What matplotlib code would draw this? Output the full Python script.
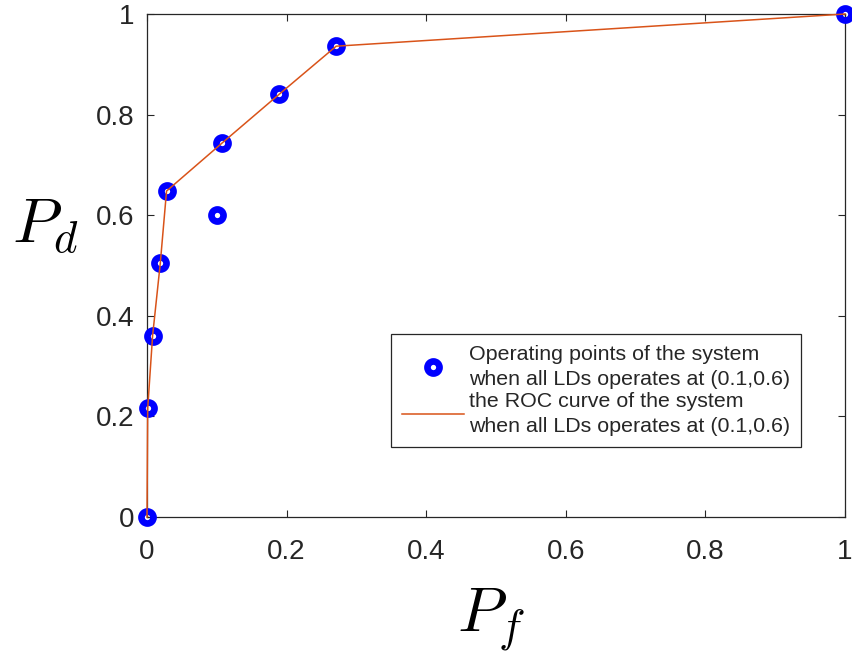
import numpy as np
import matplotlib
matplotlib.use("Agg")
import matplotlib.pyplot as plt
from matplotlib.ticker import FuncFormatter

# operating points of the fused system (false alarm, detection)
pf_ops = [0.0, 0.001, 0.008, 0.019, 0.028, 0.1, 0.108, 0.189, 0.271, 1.0]
pd_ops = [0.0, 0.216, 0.36, 0.504, 0.648, 0.6, 0.744, 0.84, 0.936, 1.0]

# ROC curve through the upper operating points
pf_roc = [0.0, 0.001, 0.008, 0.019, 0.028, 0.108, 0.189, 0.271, 1.0]
pd_roc = [0.0, 0.216, 0.36, 0.504, 0.648, 0.744, 0.84, 0.936, 1.0]

ticks = [0, 0.2, 0.4, 0.6, 0.8, 1]
label_ops = "Operating points of the system\nwhen all LDs operates at (0.1,0.6)"
label_roc = "the ROC curve of the system\nwhen all LDs operates at (0.1,0.6)"

plt.rcParams['font.family'] = ['Liberation Sans', 'DejaVu Sans']
plt.rcParams['mathtext.fontset'] = 'cm'
axcol = '#262626'

W, H = 853, 654
fig = plt.figure(figsize=(W / 100, H / 100), dpi=100)
ax = fig.add_axes([147 / W, 1 - 517 / H, 698 / W, 503 / H])

ax.plot(pf_ops, pd_ops, 'o', color='blue', markerfacecolor='none',
        markersize=8.7, markeredgewidth=4.8, label=label_ops, zorder=3,
        clip_on=False)
ax.plot(pf_roc, pd_roc, '-', color='#D95319', linewidth=1.1, label=label_roc,
        zorder=4, clip_on=False)

ax.set_xlim(0, 1)
ax.set_ylim(0, 1)
ax.set_xticks(ticks)
ax.set_yticks(ticks)
fmt = FuncFormatter(lambda v, p: ('%g' % v))
ax.xaxis.set_major_formatter(fmt)
ax.yaxis.set_major_formatter(fmt)
ax.tick_params(direction='in', length=5, width=0.8, colors=axcol, labelsize=20,
               top=True, right=True)
ax.tick_params(axis='x', pad=16)
ax.tick_params(axis='y', pad=9)
for s in ax.spines.values():
    s.set_color(axcol)
    s.set_linewidth(0.9)

fig.text(12 / W, 1 - 243 / H, r'$P_d$', fontsize=46, ha='left', va='baseline')
fig.text(457 / W, 1 - 632 / H, r'$P_f$', fontsize=46, ha='left', va='baseline')

leg = ax.legend(loc='upper left', bbox_to_anchor=(391 / W, 1 - 334 / H),
                bbox_transform=fig.transFigure, borderaxespad=0, fontsize=15.4,
                fancybox=False, framealpha=1, edgecolor=axcol, borderpad=0.5,
                handlelength=2.9, handletextpad=0.25, labelspacing=0.15)
leg.get_frame().set_linewidth(0.9)
for t in leg.get_texts():
    t.set_color(axcol)
    t.set_linespacing(1.4)

fig.savefig('out.png', dpi=100)
